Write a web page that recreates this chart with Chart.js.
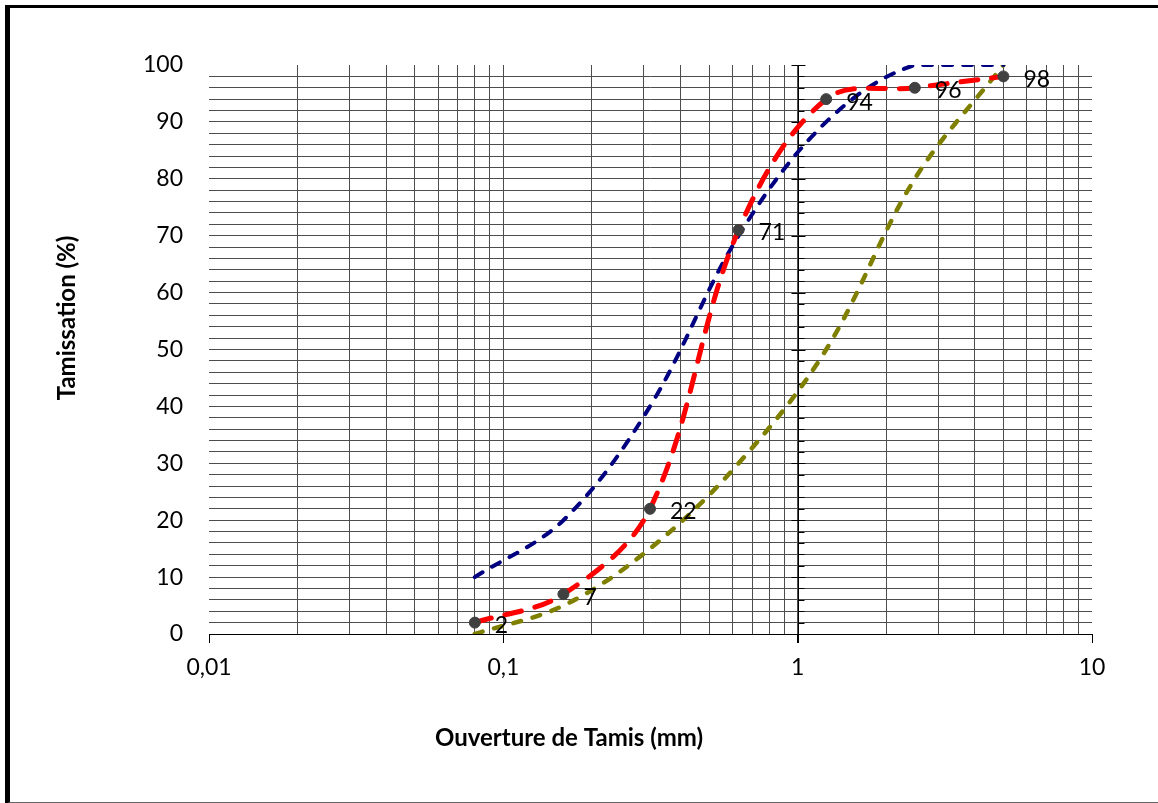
<!DOCTYPE html>
<html>
<head>
<meta charset="utf-8">
<title>Tamisage</title>
<script src="https://cdn.jsdelivr.net/npm/chart.js@4.4.1/dist/chart.umd.min.js"></script>
<style>
  body { margin: 0; background: #fff; }
  #wrap { position: relative; width: 1158px; height: 803px; overflow: hidden; }
  #frame {
    position: absolute; left: 5px; top: 5px; width: 1170px; height: 794px;
    border-left: 5px solid #000; border-top: 3px solid #000; border-bottom: 2px solid #666;
    pointer-events: none;
  }
</style>
</head>
<body>
<div id="wrap">
  <canvas id="sieve" width="1158" height="803"></canvas>
  <div id="frame"></div>
</div>
<script>
// ouvertures des tamis (mm)
const sieves = [0.08, 0.16, 0.315, 0.63, 1.25, 2.5, 5];
// courbe mesurée (%)
const measured = [2, 7, 22, 71, 94, 96, 98];
// fuseau : limite haute / limite basse
const upperLimit = [10, 20, 40, 70, 90, 100, 100];
const lowerLimit = [0, 5, 15, 30, 50, 80, 100];

const xMajorTicks = [0.01, 0.1, 1, 10];
const xTickLabels = ['0,01', '0,1', '1', '10'];
const yTickLabels = ['0', '10', '20', '30', '40', '50', '60', '70', '80', '90', '100'];

const gridColor = '#4d4d4d';
const tickFont = { family: 'Lato', size: 23 };

// toutes les valeurs 1..9 de chaque décade pour la grille
const xGridTicks = [];
for (const dec of [0.01, 0.1, 1]) {
  for (let m = 1; m <= 9; m++) {
    xGridTicks.push(Number((dec * m).toPrecision(3)));
  }
}
xGridTicks.push(10);

function majorIndex(v) {
  return xMajorTicks.findIndex(m => Math.abs(m - v) < 1e-9);
}

const axisAtOne = {
  id: 'axisAtOne',
  beforeDatasetsDraw(chart) {
    const { ctx, scales: { x, y } } = chart;
    const px = Math.round(x.getPixelForValue(1)) + 0.5;
    ctx.save();
    ctx.strokeStyle = '#000';
    ctx.lineWidth = 1;
    ctx.beginPath();
    ctx.moveTo(px, y.getPixelForValue(100));
    ctx.lineTo(px, y.getPixelForValue(0) + 9);
    for (let v = 0; v <= 100; v += 2) {
      const py = Math.round(y.getPixelForValue(v)) + 0.5;
      if (v % 10 === 0) {
        ctx.moveTo(px - 7, py);
        ctx.lineTo(px + 7, py);
      } else {
        ctx.moveTo(px, py);
        ctx.lineTo(px + 6, py);
      }
    }
    ctx.stroke();
    ctx.restore();
  }
};

const valueLabels = {
  id: 'valueLabels',
  afterDatasetsDraw(chart) {
    const { ctx } = chart;
    const meta = chart.getDatasetMeta(0);
    ctx.save();
    ctx.font = '23px Lato';
    ctx.fillStyle = '#000';
    ctx.textAlign = 'left';
    ctx.textBaseline = 'middle';
    meta.data.forEach((pt, i) => {
      ctx.fillText(String(measured[i]), pt.x + 20, pt.y + 3);
    });
    ctx.restore();
  }
};

const axisTitles = {
  id: 'axisTitles',
  afterDraw(chart) {
    const { ctx } = chart;
    ctx.save();
    ctx.fillStyle = '#000';
    ctx.font = 'bold 24px Lato';
    ctx.textAlign = 'center';
    ctx.textBaseline = 'middle';
    ctx.fillText('Ouverture de Tamis (mm)', 569, 738);
    ctx.translate(67, 318);
    ctx.rotate(-Math.PI / 2);
    ctx.fillText('Tamissation (%)', 0, 0);
    ctx.restore();
  }
};

new Chart(document.getElementById('sieve'), {
  type: 'line',
  data: {
    labels: sieves,
    datasets: [
      {
        label: 'Courbe',
        data: sieves.map((s, i) => ({ x: s, y: measured[i] })),
        borderColor: '#ff0000',
        borderWidth: 5,
        borderDash: [17, 14],
        borderCapStyle: 'round',
        pointRadius: 5.5,
        pointBackgroundColor: '#404040',
        pointBorderColor: '#404040',
        pointBorderWidth: 1,
        tension: 0.35
      },
      {
        label: 'Limite haute',
        data: sieves.map((s, i) => ({ x: s, y: upperLimit[i] })),
        borderColor: '#000080',
        borderWidth: 4,
        borderDash: [9, 11],
        borderCapStyle: 'round',
        pointRadius: 0,
        tension: 0.35
      },
      {
        label: 'Limite basse',
        data: sieves.map((s, i) => ({ x: s, y: lowerLimit[i] })),
        borderColor: '#808000',
        borderWidth: 4.5,
        borderDash: [8, 12],
        borderCapStyle: 'round',
        pointRadius: 0,
        tension: 0.35
      }
    ]
  },
  options: {
    responsive: false,
    animation: false,
    layout: { padding: { top: 65, right: 66, left: 0, bottom: 0 } },
    plugins: {
      legend: { display: false },
      tooltip: { enabled: false }
    },
    scales: {
      x: {
        type: 'logarithmic',
        min: 0.01,
        max: 10,
        afterBuildTicks: (scale) => {
          scale.ticks = xGridTicks.map(v => ({ value: v, major: majorIndex(v) >= 0 }));
        },
        afterFit: (scale) => { scale.height = 169; },
        border: { display: true, color: '#000', width: 1 },
        grid: {
          color: (c) => {
            const v = c.tick ? c.tick.value : null;
            return (v === 0.01 || v === 10) ? 'rgba(0,0,0,0)' : gridColor;
          },
          tickColor: (c) => (c.tick && majorIndex(c.tick.value) >= 0) ? '#000' : 'rgba(0,0,0,0)',
          tickLength: 9,
          lineWidth: 1
        },
        ticks: {
          autoSkip: false,
          maxRotation: 0,
          padding: 11,
          color: '#000',
          font: tickFont,
          callback: (value) => {
            const k = majorIndex(value);
            return k >= 0 ? xTickLabels[k] : '';
          }
        }
      },
      y: {
        min: 0,
        max: 100,
        afterFit: (scale) => { scale.width = 209; },
        border: { display: false },
        grid: {
          color: (c) => {
            const v = c.tick ? c.tick.value : null;
            return (v === 0 || v === 100) ? 'rgba(0,0,0,0)' : gridColor;
          },
          drawTicks: false,
          lineWidth: 1
        },
        ticks: {
          stepSize: 2,
          autoSkip: false,
          padding: 26,
          color: '#000',
          font: tickFont,
          callback: (value) => value % 10 === 0 ? yTickLabels[value / 10] : ''
        }
      }
    }
  },
  plugins: [axisAtOne, valueLabels, axisTitles]
});
</script>
</body>
</html>
